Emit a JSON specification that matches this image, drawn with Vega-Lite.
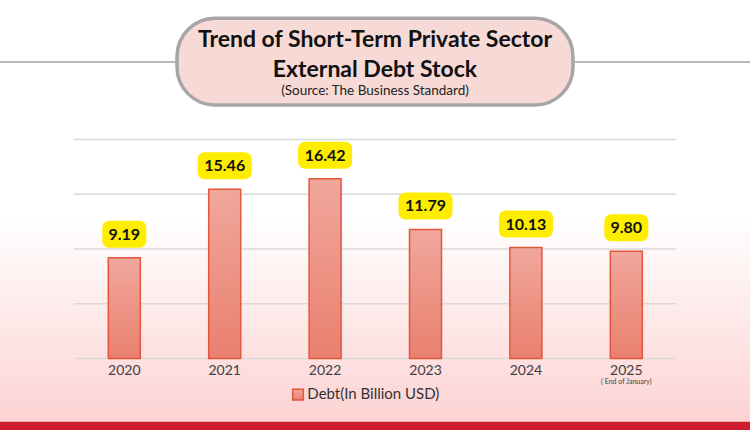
{
  "$schema": "https://vega.github.io/schema/vega-lite/v6.json",
  "width": 750,
  "height": 430,
  "autosize": {"type": "none"},
  "padding": 0,
  "background": "white",
  "config": {"view": {"stroke": null}, "axis": {"disable": true}, "text": {"font": "Lato"}},
  "data": {"values": [
    {"year": 2020, "debt": 9.19, "note": ""},
    {"year": 2021, "debt": 15.46, "note": ""},
    {"year": 2022, "debt": 16.42, "note": ""},
    {"year": 2023, "debt": 11.79, "note": ""},
    {"year": 2024, "debt": 10.13, "note": ""},
    {"year": 2025, "debt": 9.80, "note": "( End of January)"}
  ]},
  "layer": [
    {
      "data": {"values": [{}]},
      "mark": {"type": "rect", "fill": {"gradient": "linear", "x1": 0, "y1": 0, "x2": 0, "y2": 1, "stops": [{"offset": 0, "color": "#ffffff"}, {"offset": 0.5, "color": "#ffffff"}, {"offset": 0.98, "color": "#fdd3d3"}, {"offset": 1, "color": "#fdd3d3"}]}},
      "encoding": {
        "x": {"datum": 2018.762, "type": "quantitative", "scale": {"domain": [2018.762, 2026.232], "nice": false, "zero": false, "padding": 0}, "axis": null},
        "x2": {"datum": 2026.232},
        "y": {"datum": -6.53, "type": "quantitative", "scale": {"domain": [-6.53, 32.74], "nice": false, "zero": false, "padding": 0}, "axis": null},
        "y2": {"datum": 32.74}
      }
    },
    {
      "data": {"values": [{}]},
      "mark": {"type": "rect", "fill": "#cd1c2e"},
      "encoding": {
        "x": {"datum": 2018.762, "type": "quantitative", "axis": null},
        "x2": {"datum": 2026.232},
        "y": {"datum": -6.53, "type": "quantitative", "axis": null},
        "y2": {"datum": -5.77}
      }
    },
    {
      "data": {"values": [{"v": 0}, {"v": 5}, {"v": 10}, {"v": 15}, {"v": 20}]},
      "mark": {"type": "rule", "color": "#d9d9d9", "strokeWidth": 1.5},
      "encoding": {
        "x": {"datum": 2019.5, "type": "quantitative", "axis": null},
        "x2": {"datum": 2025.5},
        "y": {"field": "v", "type": "quantitative", "axis": null}
      }
    },
    {
      "data": {"values": [{}]},
      "mark": {"type": "rule", "color": "#a3a3a3", "strokeWidth": 1.5},
      "encoding": {
        "x": {"datum": 2018.762, "type": "quantitative", "axis": null},
        "x2": {"datum": 2026.232},
        "y": {"datum": 27.08, "type": "quantitative", "axis": null}
      }
    },
    {
      "data": {"values": [{}]},
      "mark": {"type": "rect", "fill": "#f7dad6", "stroke": "#a6a6a6", "strokeWidth": 3.5, "cornerRadius": 38},
      "encoding": {
        "x": {"datum": 2020.525, "type": "quantitative", "axis": null},
        "x2": {"datum": 2024.469},
        "y": {"datum": 23.15, "type": "quantitative", "axis": null},
        "y2": {"datum": 31.07}
      }
    },
    {
      "data": {"values": [{}]},
      "mark": {"type": "text", "text": "Trend of Short-Term Private Sector", "fontSize": 23, "fontWeight": "bold", "color": "#111111", "align": "center", "baseline": "alphabetic"},
      "encoding": {
        "x": {"datum": 2022.497, "type": "quantitative", "axis": null},
        "y": {"datum": 28.42, "type": "quantitative", "axis": null}
      }
    },
    {
      "data": {"values": [{}]},
      "mark": {"type": "text", "text": "External Debt Stock", "fontSize": 23, "fontWeight": "bold", "color": "#111111", "align": "center", "baseline": "alphabetic"},
      "encoding": {
        "x": {"datum": 2022.497, "type": "quantitative", "axis": null},
        "y": {"datum": 25.73, "type": "quantitative", "axis": null}
      }
    },
    {
      "data": {"values": [{}]},
      "mark": {"type": "text", "text": "(Source: The Business Standard)", "fontSize": 13.5, "color": "#222222", "align": "center", "baseline": "alphabetic"},
      "encoding": {
        "x": {"datum": 2022.497, "type": "quantitative", "axis": null},
        "y": {"datum": 24.06, "type": "quantitative", "axis": null}
      }
    },
    {
      "mark": {"type": "bar", "orient": "vertical", "width": 32, "stroke": "#e2573b", "strokeWidth": 1.5, "fill": {"gradient": "linear", "x1": 0, "y1": 0, "x2": 0, "y2": 1, "stops": [{"offset": 0, "color": "#f1a79c"}, {"offset": 1, "color": "#e9806f"}]}},
      "encoding": {
        "x": {"field": "year", "type": "quantitative", "axis": null},
        "y": {"field": "debt", "type": "quantitative", "axis": null},
        "y2": {"datum": 0}
      }
    },
    {
      "transform": [{"filter": "datum.debt < 10"}],
      "mark": {"type": "bar", "orient": "vertical", "width": 44, "fill": "#ffed00", "cornerRadius": 7, "yOffset": -37, "y2Offset": -10},
      "encoding": {
        "x": {"field": "year", "type": "quantitative", "axis": null},
        "y": {"field": "debt", "type": "quantitative", "axis": null},
        "y2": {"field": "debt"}
      }
    },
    {
      "transform": [{"filter": "datum.debt >= 10"}],
      "mark": {"type": "bar", "orient": "vertical", "width": 54, "fill": "#ffed00", "cornerRadius": 7, "yOffset": -37, "y2Offset": -10},
      "encoding": {
        "x": {"field": "year", "type": "quantitative", "axis": null},
        "y": {"field": "debt", "type": "quantitative", "axis": null},
        "y2": {"field": "debt"}
      }
    },
    {
      "mark": {"type": "text", "fontSize": 16, "fontWeight": "bold", "color": "#111111", "align": "center", "baseline": "middle", "yOffset": -23},
      "encoding": {
        "x": {"field": "year", "type": "quantitative", "axis": null},
        "y": {"field": "debt", "type": "quantitative", "axis": null},
        "text": {"field": "debt", "type": "quantitative", "format": ".2f"}
      }
    },
    {
      "mark": {"type": "text", "fontSize": 14, "color": "#404040", "align": "center", "baseline": "alphabetic"},
      "encoding": {
        "x": {"field": "year", "type": "quantitative", "axis": null},
        "y": {"datum": -1.51, "type": "quantitative", "axis": null},
        "text": {"field": "year", "type": "nominal"}
      }
    },
    {
      "mark": {"type": "text", "fontSize": 7, "color": "#404040", "align": "center", "baseline": "alphabetic"},
      "encoding": {
        "x": {"field": "year", "type": "quantitative", "axis": null},
        "y": {"datum": -2.33, "type": "quantitative", "axis": null},
        "text": {"field": "note", "type": "nominal"}
      }
    },
    {
      "data": {"values": [{}]},
      "mark": {"type": "rect", "stroke": "#e2573b", "strokeWidth": 1.5, "fill": {"gradient": "linear", "x1": 0, "y1": 0, "x2": 0, "y2": 1, "stops": [{"offset": 0, "color": "#f1a79c"}, {"offset": 1, "color": "#e9806f"}]}},
      "encoding": {
        "x": {"datum": 2021.677, "type": "quantitative", "axis": null},
        "x2": {"datum": 2021.783},
        "y": {"datum": -2.81, "type": "quantitative", "axis": null},
        "y2": {"datum": -3.79}
      }
    },
    {
      "data": {"values": [{}]},
      "mark": {"type": "text", "text": "Debt(In Billion USD)", "fontSize": 15, "color": "#333333", "align": "left", "baseline": "alphabetic"},
      "encoding": {
        "x": {"datum": 2021.823, "type": "quantitative", "axis": null},
        "y": {"datum": -3.70, "type": "quantitative", "axis": null}
      }
    }
  ]
}
